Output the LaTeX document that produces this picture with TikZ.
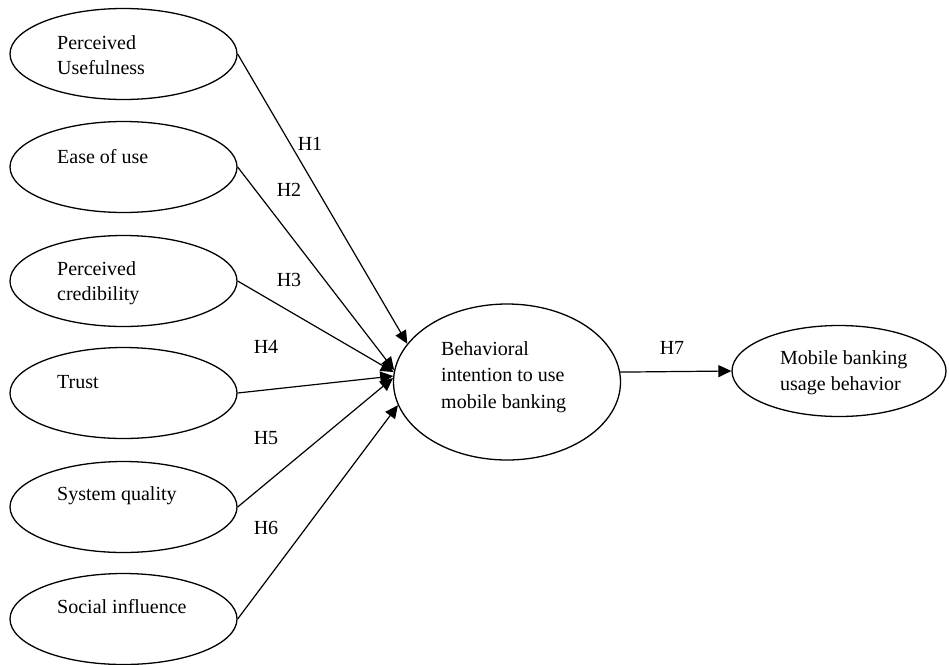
\documentclass[tikz,border=0pt]{standalone}
\usepackage{fontspec}
\setmainfont{Liberation Serif}
\usetikzlibrary{shapes.geometric,arrows.meta}
\begin{document}
\begin{tikzpicture}[x=1pt,y=-1pt,
  oval/.style={draw,ellipse,line width=1.3pt,inner sep=0pt,minimum width=227pt,minimum height=91pt},
  lbl/.style={anchor=base west,inner sep=0pt,font=\fontsize{20}{25}\selectfont},
  hyp/.style={inner sep=0pt,font=\fontsize{20}{24}\selectfont},
  arr/.style={line width=1.2pt,-{Triangle[length=13pt,width=12pt]}}]
\useasboundingbox (0,0) rectangle (949,664);
% left constructs
\node[oval] (pu) at (123.5,54) {};
\node[oval] (eu) at (123.5,167) {};
\node[oval] (pc) at (123.5,281) {};
\node[oval] (tr) at (123.5,393) {};
\node[oval] (sq) at (123.5,507) {};
\node[oval] (si) at (123.5,619) {};
\node[lbl] (tpu) at (57,49) {\begin{tabular}[t]{@{}l@{}}Perceived\\Usefulness\end{tabular}};
\node[lbl] (teu) at (57,163) {Ease of use};
\node[lbl] (tpc) at (57,275) {\begin{tabular}[t]{@{}l@{}}Perceived\\credibility\end{tabular}};
\node[lbl] (ttr) at (57,388) {Trust};
\node[lbl] (tsq) at (57,500) {System quality};
\node[lbl] (tsi) at (57,613) {Social influence};
% central and outcome
\node[oval,minimum width=227pt,minimum height=156pt] (bi) at (507,382) {};
\node[lbl,font=\fontsize{20}{26.5}\selectfont] (tbi) at (441,355) {\begin{tabular}[t]{@{}l@{}}Behavioral\\intention to use\\mobile banking\end{tabular}};
\node[oval,minimum width=214pt,minimum height=91pt] (mb) at (839,371) {};
\node[lbl,font=\fontsize{20}{26}\selectfont] (tmb) at (780,364) {\begin{tabular}[t]{@{}l@{}}Mobile banking\\usage behavior\end{tabular}};
% connectors
\draw[arr] (pu.east) -- (bi.159);
\draw[arr] (eu.east) -- (bi.174);
\draw[arr] (pc.east) -- (bi.175.5);
\draw[arr] (tr.east) -- (bi.177);
\draw[arr] (sq.east) -- (bi.178.5);
\draw[arr] (si.east) -- (bi.192);
\draw[arr] (bi.5) -- (mb.west);
% hypothesis labels
\node[hyp] (h1) at (310,143.5) {H1};
\node[hyp] (h2) at (289,190) {H2};
\node[hyp] (h3) at (289,280) {H3};
\node[hyp] (h4) at (266,347) {H4};
\node[hyp] (h5) at (266,438) {H5};
\node[hyp] (h6) at (266,528) {H6};
\node[hyp] (h7) at (672,348) {H7};
\end{tikzpicture}
\end{document}
